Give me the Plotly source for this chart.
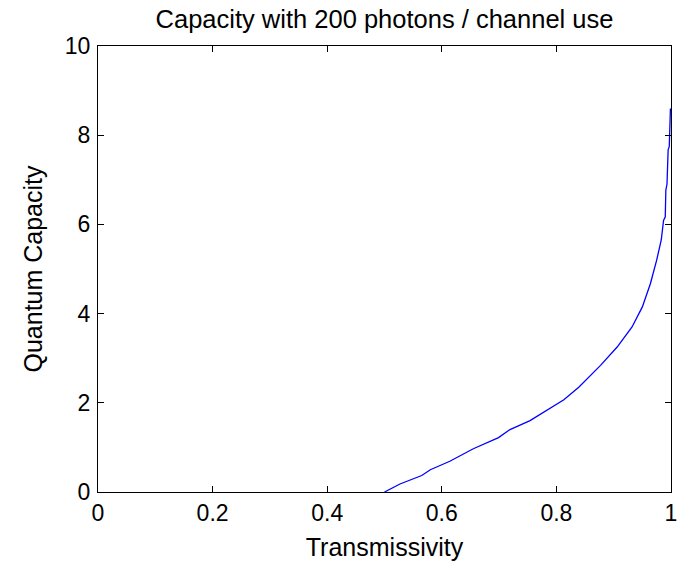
import plotly.graph_objects as go

# Values
transmissivity = [0.500, 0.527, 0.565, 0.580, 0.614, 0.655, 0.699, 0.719, 0.754,
                  0.784, 0.813, 0.839, 0.877, 0.906, 0.932, 0.950, 0.964, 0.975,
                  0.983, 0.987, 0.990, 0.991, 0.993, 0.995, 0.997, 0.999]
capacity = [0.00, 0.18, 0.37, 0.50, 0.69, 0.97, 1.22, 1.40, 1.60,
            1.84, 2.07, 2.35, 2.84, 3.25, 3.70, 4.15, 4.67, 5.20,
            5.65, 6.09, 6.17, 6.77, 6.90, 7.67, 7.75, 8.60]

x_ticks = [0, 0.2, 0.4, 0.6, 0.8, 1]
x_ticklabels = ["0", "0.2", "0.4", "0.6", "0.8", "1"]
y_ticks = [0, 2, 4, 6, 8, 10]
y_ticklabels = ["0", "2", "4", "6", "8", "10"]

FONT = "Liberation Sans, Arial, Helvetica, sans-serif"

fig = go.Figure()
fig.add_trace(go.Scatter(x=transmissivity, y=capacity, mode="lines",
                         line=dict(color="#0000ff", width=1.3),
                         hoverinfo="skip", showlegend=False))

axis_common = dict(showline=True, linecolor="black", linewidth=1.2, mirror="ticks",
                   ticks="inside", ticklen=6, tickwidth=1.2, tickcolor="black",
                   showgrid=False, zeroline=False,
                   tickfont=dict(family=FONT, size=23, color="black"))

label_font = dict(family=FONT, size=25, color="black")

fig.update_layout(
    width=679, height=561,
    margin=dict(l=98, r=8, t=46, b=69, autoexpand=False),
    paper_bgcolor="white", plot_bgcolor="white",
    hovermode=False,
    title=dict(text="Capacity with 200 photons / channel use",
               font=dict(family=FONT, size=25.5, color="black"),
               x=0.5, xanchor="center", xref="paper", y=0.966, yanchor="middle"),
    xaxis=dict(range=[0, 1], tickvals=x_ticks, ticktext=x_ticklabels,
               title=dict(text="Transmissivity", font=label_font, standoff=13),
               **axis_common),
    yaxis=dict(range=[0, 10], tickvals=y_ticks, ticktext=y_ticklabels,
               title=dict(text="Quantum Capacity", font=label_font, standoff=14),
               ticklabelstandoff=2,
               **axis_common),
)

fig.write_html("out.html", config={"displayModeBar": False},
               post_script="document.body.style.margin='0';")
